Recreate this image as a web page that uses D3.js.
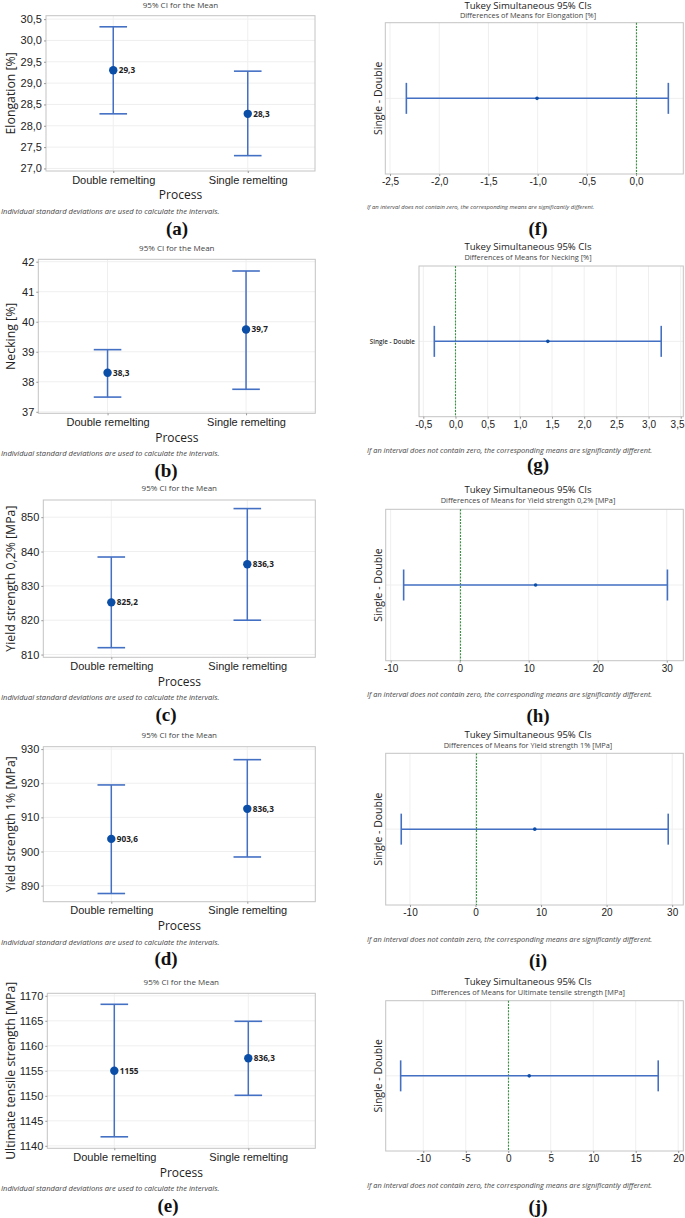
<!DOCTYPE html>
<html>
<head>
<meta charset="utf-8">
<script src="https://cdn.jsdelivr.net/npm/d3@7"></script>
<style>
  body { margin: 0; background: #fff; }
  svg { display: block; font-family: "Open Sans", "Noto Sans", sans-serif; }
</style>
</head>
<body>
<svg id="chart" width="685" height="1218"></svg>
<script>
// ---- data ----
const processes = ["Double remelting", "Single remelting"];
const properties = ["Elongation [%]", "Necking [%]", "Yield strength 0,2% [MPa]", "Yield strength 1% [MPa]", "Ultimate tensile strength [MPa]"];
const letters = [["(a)", "(f)"], ["(b)", "(g)"], ["(c)", "(h)"], ["(d)", "(i)"], ["(e)", "(j)"]];

// 95% CI for the mean, per process (Double, Single)
const ciMeans = [[29.3, 28.28], [38.3, 39.74], [825.2, 836.3], [903.7, 912.5], [1155, 1157.5]];
const ciLower = [[28.28, 27.3], [37.49, 37.75], [812.0, 820.0], [887.7, 898.4], [1141.8, 1150.1]];
const ciUpper = [[30.32, 29.28], [39.07, 41.69], [838.4, 852.5], [919.5, 926.9], [1168.3, 1164.9]];
const meanLabels = [["29,3", "28,3"], ["38,3", "39,7"], ["825,2", "836,3"], ["903,6", "836,3"], ["1155", "836,3"]];
const ciDomains = [[26.94, 30.58], [36.95, 42.08], [809.2, 855.0], [885.3, 930.7], [1139.5, 1170.5]];
const ciTicks = [
  [27, 27.5, 28, 28.5, 29, 29.5, 30, 30.5],
  [37, 38, 39, 40, 41, 42],
  [810, 820, 830, 840, 850],
  [890, 900, 910, 920, 930],
  [1140, 1145, 1150, 1155, 1160, 1165, 1170]
];
const ciTickDecimals = [1, 0, 0, 0, 0];

// Tukey simultaneous 95% CIs, Single - Double
const tukeyPair = ["Single - Double"];
const tukeyDiff = [-1.006, 1.435, 11.0, 9.04, 2.47];
const tukeyLower = [-2.334, -0.329, -8.12, -11.33, -12.66];
const tukeyUpper = [0.328, 3.197, 30.1, 29.4, 17.65];
const tukeyDomains = [[-2.548, 0.48], [-0.567, 3.54], [-10.72, 32.4], [-13.7, 31.7], [-14.42, 20.6]];
const tukeyTicks = [
  [-2.5, -2, -1.5, -1, -0.5, 0],
  [-0.5, 0, 0.5, 1, 1.5, 2, 2.5, 3, 3.5],
  [-10, 0, 10, 20, 30],
  [-10, 0, 10, 20, 30],
  [-10, -5, 0, 5, 10, 15, 20]
];
const tukeyTickDecimals = [1, 1, 0, 0, 0];

// ---- layout ----
const leftFrames = [
  { x0: 46, x1: 315, y0: 15.7, y1: 171, letterX: 177 },
  { x0: 38.3, x1: 315.3, y0: 259.3, y1: 413.3, letterX: 166 },
  { x0: 43.3, x1: 315.3, y0: 500, y1: 657.3, letterX: 166 },
  { x0: 43.3, x1: 315.3, y0: 746.7, y1: 901.7, letterX: 166 },
  { x0: 47.3, x1: 315.3, y0: 993.3, y1: 1148.3, letterX: 168 }
];
const rightFrames = [
  { x0: 385.3, x1: 683.3, y0: 22.7, y1: 174, titleY: 5.6, subGap: 9.6, footY: 207, footSize: 5.9, letterY: 228, rotLabel: true },
  { x0: 419, x1: 683.3, y0: 266, y1: 416.7, titleY: 246.7, subGap: 10.6, footY: 450.7, footSize: 7.4, letterY: 464, rotLabel: false },
  { x0: 385.7, x1: 683.3, y0: 509.3, y1: 660.7, titleY: 490, subGap: 10.6, footY: 694, footSize: 7.4, letterY: 715, rotLabel: true },
  { x0: 385.7, x1: 683.3, y0: 753.3, y1: 905, titleY: 735, subGap: 10.3, footY: 939, footSize: 7.4, letterY: 960, rotLabel: true },
  { x0: 385.7, x1: 683.3, y0: 1000.7, y1: 1151, titleY: 981.7, subGap: 10.3, footY: 1185, footSize: 7.4, letterY: 1206.7, rotLabel: true }
];

const lineBlue = "#4470c4";
const dotBlue = "#0b4ea8";
const gridColor = "#efefef";
const frameColor = "#c4c4c4";
const textColor = "#222";

const locale = d3.formatLocale({ decimal: ",", thousands: ".", grouping: [3], currency: ["", ""], minus: "-" });

const svg = d3.select("#chart");

function styleAxis(g) {
  g.select(".domain").remove();
  g.selectAll(".tick line").attr("stroke", "#999");
  g.selectAll(".tick text").attr("fill", textColor);
}

// left column: interval plots of the mean
function drawCIPanel(i) {
  const f = leftFrames[i];
  const g = svg.append("g");

  const x = d3.scalePoint().domain(processes).range([f.x0, f.x1]).padding(0.5);
  const y = d3.scaleLinear().domain(ciDomains[i]).range([f.y1, f.y0]);

  // grid
  g.selectAll("line.hgrid").data(ciTicks[i]).enter().append("line")
    .attr("x1", f.x0).attr("x2", f.x1)
    .attr("y1", d => y(d)).attr("y2", d => y(d))
    .attr("stroke", gridColor);
  g.selectAll("line.vgrid").data(processes).enter().append("line")
    .attr("x1", d => x(d)).attr("x2", d => x(d))
    .attr("y1", f.y0).attr("y2", f.y1)
    .attr("stroke", gridColor);

  g.append("rect")
    .attr("x", f.x0).attr("y", f.y0)
    .attr("width", f.x1 - f.x0).attr("height", f.y1 - f.y0)
    .attr("fill", "none").attr("stroke", frameColor);

  g.append("g").attr("transform", `translate(${f.x0},0)`)
    .call(d3.axisLeft(y).tickValues(ciTicks[i]).tickSize(2).tickPadding(2)
      .tickFormat(locale.format(`.${ciTickDecimals[i]}f`)))
    .call(styleAxis)
    .selectAll("text").style("font-size", "11px");

  g.append("g").attr("transform", `translate(0,${f.y1})`)
    .call(d3.axisBottom(x).tickSize(2).tickPadding(3))
    .call(styleAxis)
    .selectAll("text").style("font-size", "11px");

  // intervals
  const bars = g.selectAll("g.bar").data(processes).enter().append("g");
  bars.append("line")
    .attr("x1", d => x(d)).attr("x2", d => x(d))
    .attr("y1", (d, j) => y(ciUpper[i][j])).attr("y2", (d, j) => y(ciLower[i][j]))
    .attr("stroke", lineBlue).attr("stroke-width", 1.5);
  [ciUpper[i], ciLower[i]].forEach(arr => {
    bars.append("line")
      .attr("x1", d => x(d) - 13.8).attr("x2", d => x(d) + 13.8)
      .attr("y1", (d, j) => y(arr[j])).attr("y2", (d, j) => y(arr[j]))
      .attr("stroke", lineBlue).attr("stroke-width", 1.6);
  });
  bars.append("circle")
    .attr("cx", d => x(d)).attr("cy", (d, j) => y(ciMeans[i][j]))
    .attr("r", 4.2).attr("fill", dotBlue);
  bars.append("text")
    .attr("x", d => x(d) + 5.5).attr("y", (d, j) => y(ciMeans[i][j]))
    .attr("dy", "0.35em")
    .style("font-size", "8.2px").style("font-weight", "bold").attr("fill", textColor)
    .text((d, j) => meanLabels[i][j]);

  // texts
  const cx = (f.x0 + f.x1) / 2;
  g.append("text").attr("x", cx).attr("y", Math.max(f.y0 - 11.5, 5.5)).attr("dy", "0.35em")
    .attr("text-anchor", "middle").style("font-size", "8px").attr("fill", "#444")
    .text("95% CI for the Mean");
  g.append("text").attr("x", cx).attr("y", f.y1 + 24).attr("dy", "0.35em")
    .attr("text-anchor", "middle").style("font-size", "12px").attr("fill", textColor)
    .text("Process");
  g.append("text")
    .attr("transform", `translate(10.5,${(f.y0 + f.y1) / 2}) rotate(-90)`)
    .attr("dy", "0.35em").attr("text-anchor", "middle")
    .style("font-size", "12.3px").attr("fill", textColor)
    .text(properties[i]);
  g.append("text").attr("x", 1).attr("y", f.y1 + 40.5).attr("dy", "0.35em")
    .style("font-size", "7.6px").style("font-style", "italic").attr("fill", "#444")
    .text("Individual standard deviations are used to calculate the intervals.");
  g.append("text").attr("x", f.letterX).attr("y", f.y1 + 57).attr("dy", "0.35em")
    .attr("text-anchor", "middle")
    .style("font-family", "'Liberation Serif', 'Times New Roman', serif")
    .style("font-size", "19px").style("font-weight", "bold").attr("fill", "#111")
    .text(letters[i][0]);
}

// right column: Tukey simultaneous CIs
function drawTukeyPanel(i) {
  const f = rightFrames[i];
  const g = svg.append("g");

  const x = d3.scaleLinear().domain(tukeyDomains[i]).range([f.x0, f.x1]);
  const y = d3.scalePoint().domain(tukeyPair).range([f.y0, f.y1]).padding(0.5);

  g.selectAll("line.vgrid").data(tukeyTicks[i]).enter().append("line")
    .attr("x1", d => x(d)).attr("x2", d => x(d))
    .attr("y1", f.y0).attr("y2", f.y1)
    .attr("stroke", gridColor);
  g.selectAll("line.hgrid").data(tukeyPair).enter().append("line")
    .attr("x1", f.x0).attr("x2", f.x1)
    .attr("y1", d => y(d)).attr("y2", d => y(d))
    .attr("stroke", gridColor);

  g.append("rect")
    .attr("x", f.x0).attr("y", f.y0)
    .attr("width", f.x1 - f.x0).attr("height", f.y1 - f.y0)
    .attr("fill", "none").attr("stroke", frameColor);

  g.append("g").attr("transform", `translate(0,${f.y1})`)
    .call(d3.axisBottom(x).tickValues(tukeyTicks[i]).tickSize(2).tickPadding(2)
      .tickFormat(locale.format(`.${tukeyTickDecimals[i]}f`)))
    .call(styleAxis)
    .selectAll("text").style("font-size", "10px")
    .each(function(d) {
      // keep a tick label that would run off the page inside it
      const over = x(d) + this.getComputedTextLength() / 2 - 684;
      if (over > 0) d3.select(this).attr("x", -over);
    });

  // zero reference, snapped to the pixel grid so it stays green
  const zx = Math.round(x(0)) + 0.5;
  g.append("line")
    .attr("x1", zx).attr("x2", zx)
    .attr("y1", f.y0).attr("y2", f.y1)
    .attr("stroke", "#3a9446").attr("stroke-width", 1.1)
    .attr("stroke-dasharray", "2,1.2");

  const rows = g.selectAll("g.row").data(tukeyPair).enter().append("g");
  rows.append("line")
    .attr("x1", () => x(tukeyLower[i])).attr("x2", () => x(tukeyUpper[i]))
    .attr("y1", d => y(d)).attr("y2", d => y(d))
    .attr("stroke", lineBlue).attr("stroke-width", 1.5);
  [tukeyLower[i], tukeyUpper[i]].forEach(v => {
    rows.append("line")
      .attr("x1", x(v)).attr("x2", x(v))
      .attr("y1", d => y(d) - 15.5).attr("y2", d => y(d) + 15.5)
      .attr("stroke", lineBlue).attr("stroke-width", 1.6);
  });
  rows.append("circle")
    .attr("cx", x(tukeyDiff[i])).attr("cy", d => y(d))
    .attr("r", 1.8).attr("fill", dotBlue);

  if (f.rotLabel) {
    g.append("text")
      .attr("transform", `translate(378,${(f.y0 + f.y1) / 2}) rotate(-90)`)
      .attr("dy", "0.35em").attr("text-anchor", "middle")
      .style("font-size", "10.5px").attr("fill", textColor)
      .text(tukeyPair[0]);
  } else {
    g.append("text")
      .attr("x", f.x0 - 4).attr("y", y(tukeyPair[0])).attr("dy", "0.35em")
      .attr("text-anchor", "end")
      .style("font-size", "6.3px").style("font-weight", "600").attr("fill", "#333")
      .text(tukeyPair[0]);
  }

  g.append("text").attr("x", 528).attr("y", f.titleY).attr("dy", "0.35em")
    .attr("text-anchor", "middle").style("font-size", "9.6px").attr("fill", textColor)
    .text("Tukey Simultaneous 95% CIs");
  g.append("text").attr("x", 528).attr("y", f.titleY + f.subGap).attr("dy", "0.35em")
    .attr("text-anchor", "middle").style("font-size", "7.4px").attr("fill", "#444")
    .text("Differences of Means for " + properties[i]);
  g.append("text").attr("x", 367).attr("y", f.footY).attr("dy", "0.35em")
    .style("font-size", f.footSize + "px").style("font-style", "italic").attr("fill", "#444")
    .text("If an interval does not contain zero, the corresponding means are significantly different.");
  g.append("text").attr("x", 538).attr("y", f.letterY).attr("dy", "0.35em")
    .attr("text-anchor", "middle")
    .style("font-family", "'Liberation Serif', 'Times New Roman', serif")
    .style("font-size", "19px").style("font-weight", "bold").attr("fill", "#111")
    .text(letters[i][1]);
}

properties.forEach((p, i) => {
  drawCIPanel(i);
  drawTukeyPanel(i);
});
</script>
</body>
</html>
